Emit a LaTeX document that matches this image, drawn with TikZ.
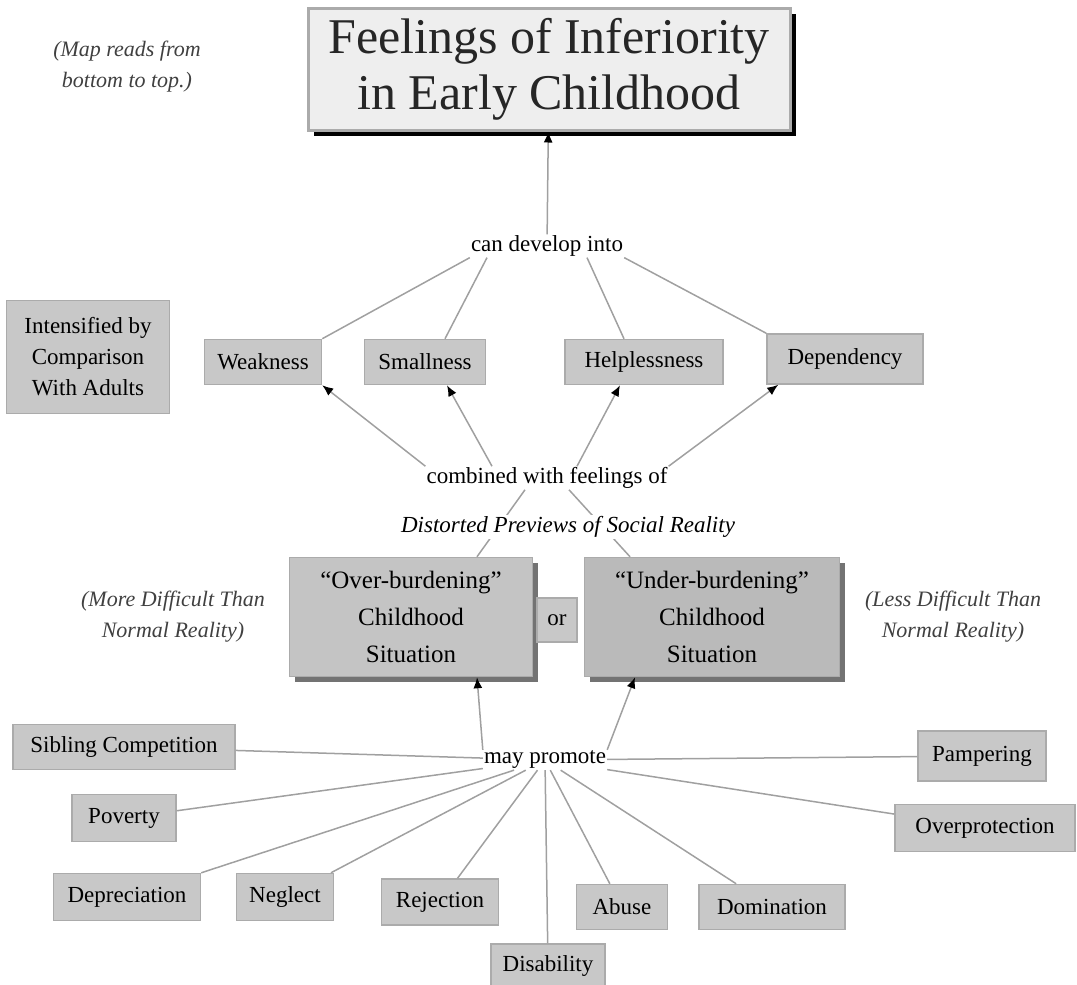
\documentclass[tikz,border=0pt]{standalone}
\usepackage{fontspec}
\setmainfont{Liberation Serif}
\usetikzlibrary{arrows.meta,shadows}
\definecolor{boxgray}{HTML}{C8C8C8}
\definecolor{sitgray}{HTML}{C4C4C4}
\definecolor{undergray}{HTML}{BABABA}
\definecolor{framegray}{HTML}{ABABAB}
\definecolor{linegray}{HTML}{A0A0A0}
\definecolor{titlegray}{HTML}{EEEEEE}
\tikzset{
    concept/.style={draw=framegray,line width=1.5pt,fill=boxgray,inner sep=0pt,
        align=center,font=\fontsize{23}{31}\selectfont},
    situation/.style={concept,fill=sitgray,
        drop shadow={shadow xshift=5pt,shadow yshift=-5pt,fill=black!55,opacity=1}},
    phrase/.style={fill=white,inner sep=1pt,font=\fontsize{23}{28}\selectfont},
    note/.style={align=center,font=\itshape\fontsize{22}{31}\selectfont,text=black!75},
    link/.style={draw=linegray,line width=1.5pt},
    linkarrow/.style={link,-{Latex[length=11pt,width=9pt,color=black]}}
}
\begin{document}
\begin{tikzpicture}[x=1pt,y=-1pt]
        \useasboundingbox(0,0)rectangle(1077,985);
        % title and note
        \node[draw=framegray,line width=3pt,fill=titlegray,minimum width=482,minimum height=122,
            align=center,font=\fontsize{50}{56}\selectfont,text=black!85,
            drop shadow={shadow xshift=6pt,shadow yshift=-6pt,fill=black,opacity=1}]
            (title) at (549,69) {Feelings of Inferiority\\in Early Childhood};
        \node[note] (readnote) at (127,67) {(Map reads from\\bottom to top.)};
        % upper level
        \node[phrase] (develop) at (547,246) {can develop into};
        \node[concept,minimum width=117,minimum height=45] (weak) at (263,362) {Weakness};
        \node[concept,minimum width=121,minimum height=45] (small) at (425,362) {Smallness};
        \node[concept,minimum width=158,minimum height=45] (help) at (644,362) {Helplessness};
        \node[concept,minimum width=156,minimum height=50] (dep) at (845,359) {Dependency};
        \node[concept,minimum width=163,minimum height=113] (adults) at (88,357) {Intensified by\\Comparison\\With Adults};
        \node[phrase] (combined) at (547,478) {combined with feelings of};
        % situations
        \node[situation,minimum width=243,minimum height=119,font=\fontsize{25}{37}\selectfont]
            (over) at (411,617) {``Over-burdening''\\Childhood\\Situation};
        \node[situation,fill=undergray,minimum width=255,minimum height=119,font=\fontsize{25}{37}\selectfont]
            (under) at (712,617) {``Under-burdening''\\Childhood\\Situation};
        \node[concept,minimum width=40,minimum height=44] (or) at (557,620) {or};
        \node[note] (morenote) at (173,617) {(More Difficult Than\\Normal Reality)};
        \node[note] (lessnote) at (953,617) {(Less Difficult Than\\Normal Reality)};
        \node[phrase] (promote) at (545,760) {may promote};
        % causes
        \node[concept,minimum width=222,minimum height=45] (sibling) at (124,747) {Sibling Competition};
        \node[concept,minimum width=128,minimum height=50] (pamper) at (982,756) {Pampering};
        \node[concept,minimum width=104,minimum height=47] (poverty) at (124,818) {Poverty};
        \node[concept,minimum width=180,minimum height=47] (overprot) at (985,828) {Overprotection};
        \node[concept,minimum width=147,minimum height=47] (depre) at (127,897) {Depreciation};
        \node[concept,minimum width=97,minimum height=47] (neglect) at (285,897) {Neglect};
        \node[concept,minimum width=117,minimum height=46] (reject) at (440,902) {Rejection};
        \node[concept,minimum width=91,minimum height=45] (abuse) at (622,907) {Abuse};
        \node[concept,minimum width=146,minimum height=45] (dom) at (772,907) {Domination};
        \node[concept,minimum width=114,minimum height=44] (disab) at (548,966) {Disability};
        % connectors, upper part
        \draw[linkarrow](develop)--(title);
        \draw[link](develop.south west)--(weak.north east);
        \draw[link](develop.south)++(-60,0)--([xshift=20pt]small.north);
        \draw[link](develop.south)++(40,0)--([xshift=-20pt]help.north);
        \draw[link](develop.south east)--(dep.north west);
        \draw[linkarrow](combined.north west)--(weak.south east);
        \draw[linkarrow](combined.north)++(-55,0)--([xshift=22pt]small.south);
        \draw[linkarrow](combined.north)++(30,0)--([xshift=-24pt]help.south);
        \draw[linkarrow](combined.north east)--([xshift=12pt]dep.south west);
        \draw[link]([xshift=66pt]over.north)--([xshift=-22pt]combined.south);
        \draw[link]([xshift=-82pt]under.north)--([xshift=22pt]combined.south);
        \node[phrase,font=\itshape\fontsize{23}{28}\selectfont] (distorted) at (568,527) {Distorted Previews of Social Reality};
        % connectors, lower part
        \draw[linkarrow](promote.north west)--([xshift=66pt]over.south);
        \draw[linkarrow](promote.north east)--([xshift=-77pt]under.south);
        \foreach \cause in {sibling,pamper,poverty,overprot,depre,neglect,reject,abuse,dom,disab}
            {
                \draw[link](promote)--(\cause);
            }
    \end{tikzpicture}
\end{document}
